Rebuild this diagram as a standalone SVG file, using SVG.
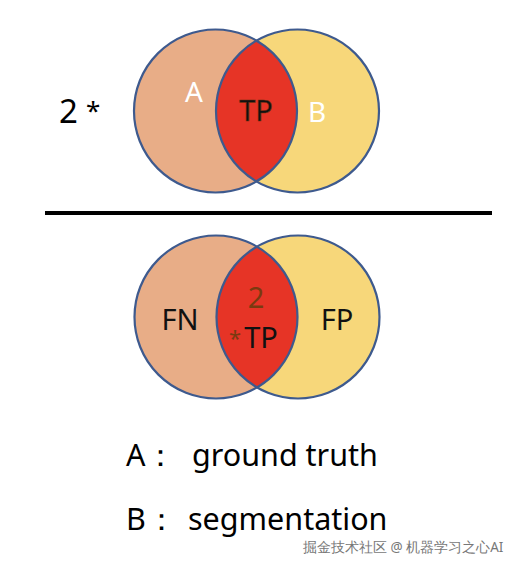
<svg xmlns="http://www.w3.org/2000/svg" width="518" height="564" viewBox="0 0 518 564">
<style>
text{font-family:"Noto Sans","Open Sans","Liberation Sans",sans-serif}
.ca{fill:#E8AD87}
.cb{fill:#F7D77A}
.lens{fill:#E63426}
.edge{fill:none;stroke:#3E5A8E;stroke-width:2.2}
.w{fill:#ffffff;font-size:28px}
.k{fill:#111111;font-size:29px}
.br{fill:#7A3A10}
.leg{fill:#000;font-size:30.5px}
</style>
<rect width="518" height="564" fill="#ffffff"/>
<g id="top-venn">
<circle class="ca" cx="215.5" cy="111" r="81.5"/>
<circle class="cb" cx="297.5" cy="111" r="81.5"/>
<path class="lens" d="M256.5 40.6 A81.5 81.5 0 0 1 256.5 181.4 A81.5 81.5 0 0 1 256.5 40.6 Z"/>
<circle class="edge" cx="215.5" cy="111" r="81.5"/>
<circle class="edge" cx="297.5" cy="111" r="81.5"/>
<text class="w" x="194" y="102" text-anchor="middle">A</text>
<text class="k" x="256" y="121" text-anchor="middle" stroke="#6B3010" stroke-width="0.6">TP</text>
<text class="w" x="317" y="122" text-anchor="middle">B</text>
</g>
<g id="factor">
<text x="59" y="123" fill="#000" font-size="33">2</text>
<text x="86" y="120" fill="#000" font-size="26">*</text>
</g>
<g id="connectors">
<line x1="45" y1="213" x2="492" y2="213" stroke="#000" stroke-width="4"/>
</g>
<g id="bottom-venn">
<circle class="ca" cx="216" cy="317" r="81.5"/>
<circle class="cb" cx="298" cy="317" r="81.5"/>
<path class="lens" d="M257 246.6 A81.5 81.5 0 0 1 257 387.4 A81.5 81.5 0 0 1 257 246.6 Z"/>
<circle class="edge" cx="216" cy="317" r="81.5"/>
<circle class="edge" cx="298" cy="317" r="81.5"/>
<text class="k" x="180" y="330" text-anchor="middle">FN</text>
<text class="k" x="337" y="330" text-anchor="middle">FP</text>
<text class="br" x="256" y="308" text-anchor="middle" font-size="29">2</text>
<text class="br" x="229" y="346" font-size="22">*</text>
<text class="k" x="261" y="348" text-anchor="middle">TP</text>
</g>
<g id="legend">
<text class="leg" x="126" y="466">A：</text>
<text class="leg" x="192" y="466">ground truth</text>
<text class="leg" x="126" y="530">B：</text>
<text class="leg" x="188" y="530">segmentation</text>
</g>
<g id="watermark">
<text x="303" y="552" fill="#777" font-size="13.5" font-family="'Noto Sans CJK SC',sans-serif">掘金技术社区 @ 机器学习之心AI</text>
</g>
</svg>
